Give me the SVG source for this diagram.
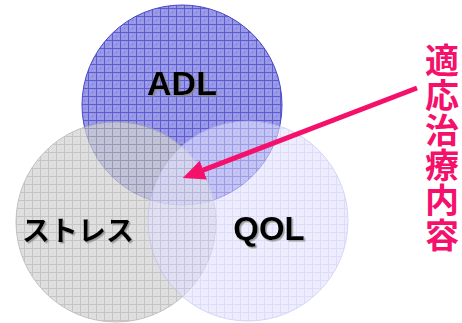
<svg xmlns="http://www.w3.org/2000/svg" width="462" height="323" viewBox="0 0 462 323">
<defs>
<pattern id="pAdl" width="8" height="8" patternUnits="userSpaceOnUse">
<rect width="8" height="8" fill="#9898e6"/>
<rect x="4" y="4" width="1" height="1" fill="#7c7cdc"/>
<rect x="2" y="2" width="1" height="1" fill="#b0b0ee"/>
<rect x="6" y="6" width="1" height="1" fill="#b0b0ee"/>
<path d="M0.5,0V8M0,0.5H8" stroke="#5c5cd2" stroke-width="1"/>
</pattern>
<pattern id="pGray" width="8" height="8" patternUnits="userSpaceOnUse">
<rect width="8" height="8" fill="#d4d4d4"/>
<rect x="4" y="4" width="1" height="1" fill="#c6c6c6"/>
<path d="M0.5,0V8M0,0.5H8" stroke="#b0b0b0" stroke-width="1"/>
</pattern>
<pattern id="pQol" width="8" height="8" patternUnits="userSpaceOnUse">
<rect width="8" height="8" fill="#e2e2fe"/>
<rect x="4" y="4" width="1" height="1" fill="#d4d4fa"/>
<path d="M0.5,0V8M0,0.5H8" stroke="#c8c8f6" stroke-width="1"/>
</pattern>
<filter id="sh" x="-10%" y="-10%" width="130%" height="140%">
<feDropShadow dx="1.5" dy="1.5" stdDeviation="0.6" flood-color="#888" flood-opacity="0.8"/>
</filter>
<marker id="ah" markerUnits="userSpaceOnUse" markerWidth="24" markerHeight="22" refX="10" refY="10" orient="auto">
<path d="M0,0 L22,10 L0,20 z" fill="#f5106c"/>
</marker>
<style>
.lbl{font-family:"Liberation Sans",Arial,"Noto Sans CJK JP",sans-serif;font-weight:bold;fill:#000;text-anchor:middle;filter:url(#sh)}
.pink{font-family:"Liberation Sans","Noto Sans CJK JP",sans-serif;font-weight:bold;fill:#f5106c;font-size:34px;text-anchor:middle}
</style>
</defs>
<g id="adl">
<circle cx="182" cy="105" r="100" fill="url(#pAdl)" stroke="#4646c8" stroke-width="1"/>
</g>
<g id="stress">
<circle cx="116" cy="222" r="100" fill="url(#pGray)" stroke="#a8a8a8" stroke-width="1" opacity="0.72"/>
</g>
<g id="qol">
<circle cx="248" cy="221" r="100" fill="url(#pQol)" stroke="#b8b8f0" stroke-width="1" opacity="0.6"/>
</g>
<g id="labels">
<text class="lbl" x="182" y="95" font-size="34">ADL</text>
<text class="lbl" x="78" y="241" font-size="28" style="font-family:'Noto Sans CJK JP',sans-serif">ストレス</text>
<text class="lbl" x="269" y="240" font-size="33">QOL</text>
</g>
<g id="connectors">
<line x1="417" y1="88" x2="194" y2="173.7" stroke="#f5106c" stroke-width="5" marker-end="url(#ah)"/>
</g>
<g id="note">
<text class="pink"><tspan x="442" y="73">適</tspan><tspan x="442" y="108">応</tspan><tspan x="442" y="143">治</tspan><tspan x="442" y="178">療</tspan><tspan x="442" y="213">内</tspan><tspan x="442" y="248">容</tspan></text>
</g>
</svg>
